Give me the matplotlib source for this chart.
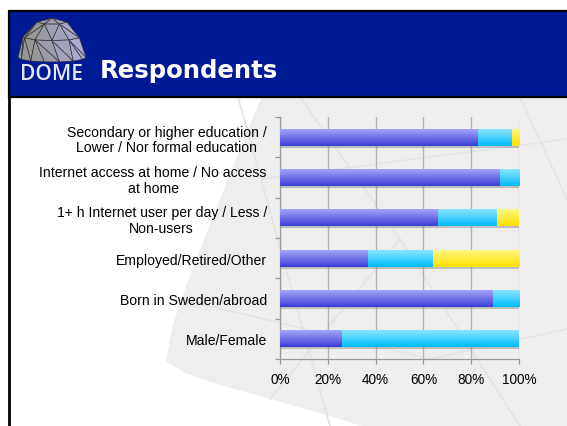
import numpy as np
import matplotlib
matplotlib.use("Agg")
import matplotlib.pyplot as plt
from matplotlib.patches import Rectangle, Polygon
import matplotlib.patheffects as pe

# survey breakdowns, shares of respondents
categories = [
    "Secondary or higher education /\nLower / Nor formal education",
    "Internet access at home / No access\nat home",
    "1+ h Internet user per day / Less /\nNon-users",
    "Employed/Retired/Other",
    "Born in Sweden/abroad",
    "Male/Female",
]
first_group = [0.83, 0.92, 0.66, 0.37, 0.89, 0.26]
second_group = [0.14, 0.08, 0.25, 0.27, 0.11, 0.74]
third_group = [0.03, 0.00, 0.09, 0.36, 0.00, 0.00]
tick_values = [0, 0.2, 0.4, 0.6, 0.8, 1.0]
tick_labels = ["0%", "20%", "40%", "60%", "80%", "100%"]

W, H = 567, 427

# gradient colours: (top, bottom)
grad_colors = [("#a4a5fa", "#3b3ed6"), ("#8ce5ff", "#00bdfd"), ("#fff683", "#ffe000")]


def fx(x):
    return x / W


def fy(y):
    return 1 - y / H


def hex_rgb(c):
    return np.array(matplotlib.colors.to_rgb(c))


fig = plt.figure(figsize=(W / 100, H / 100), dpi=100)
fig.patch.set_facecolor("white")

# faint dome watermark behind the chart
bg = fig.add_axes([0, 0, 1, 1])
bg.set_xlim(0, W)
bg.set_ylim(H, 0)
bg.axis("off")
outline = [(262, 98), (248, 130), (228, 180), (206, 235), (187, 285), (173, 325),
           (166, 362), (185, 374), (217, 385), (270, 400), (320, 414), (362, 427),
           (567, 427), (567, 98)]
bg.add_patch(Polygon(outline, closed=True, facecolor="#eeeeee", edgecolor="none"))
for (x0, y0, x1, y1) in [(238, 98, 330, 427), (262, 180, 567, 140), (300, 98, 400, 240),
                         (400, 240, 520, 427), (180, 300, 430, 360), (430, 360, 567, 330),
                         (520, 98, 567, 200), (270, 400, 400, 240)]:
    bg.plot([x0, x1], [y0, y1], color="#e3e3e3", lw=1.2, zorder=1)
bg.plot([8.5, 8.5], [12, H], color="black", lw=2, zorder=3)

# header band
bg.add_patch(Rectangle((8.5, 12), W, 86, facecolor="#001a96", edgecolor="black", lw=1.6, zorder=4))
bg.text(100, 78, "Respondents", color="white", fontsize=17.6, fontweight="bold",
        family="DejaVu Sans", va="baseline", ha="left", zorder=5)
bg.text(20, 80, "DOME", color="#e6e6ee", fontsize=15, fontweight="semibold",
        family="Open Sans", va="baseline", ha="left", zorder=5)

# little dome logo
logo = fig.add_axes([fx(17), fy(63), fx(70), 45 / H])
logo.set_xlim(-1.03, 1.03)
logo.set_ylim(-0.12, 1.03)
logo.axis("off")
elev = np.radians([0, 32, 64])
counts = [8, 6, 4]
tilt = 0.12
pts = []
for k, (e, n) in enumerate(zip(elev, counts)):
    th = np.linspace(np.pi, 0, n) + (0.5 * np.pi / (n - 1) if k % 2 else 0)
    th = np.clip(th, 0, np.pi)
    r = np.cos(e)
    pts.append(np.c_[r * np.cos(th), np.sin(e) - tilt * r * np.sin(th)])
apex = np.array([0.0, 1.0])
tris = []
for a in range(len(pts) - 1):
    A, B = pts[a], pts[a + 1]
    i = j = 0
    while i < len(A) - 1 or j < len(B) - 1:
        if j >= len(B) - 1 or (i < len(A) - 1 and (i + 1) / (len(A) - 1) <= (j + 1) / (len(B) - 1)):
            tris.append([A[i], A[i + 1], B[j]])
            i += 1
        else:
            tris.append([A[i], B[j], B[j + 1]])
            j += 1
C = pts[-1]
for i in range(len(C) - 1):
    tris.append([C[i], C[i + 1], apex])
for t in tris:
    t = np.array(t)
    cx = t[:, 0].mean()
    mix = np.clip((cx + 0.5) / 1.3, 0, 1)
    col = (1 - mix) * hex_rgb("#969696") + mix * hex_rgb("#aaaad4")
    logo.add_patch(Polygon(t, closed=True, facecolor=col, edgecolor="#333333", lw=0.45))

# chart
ax = fig.add_axes([fx(280), fy(360), fx(519) - fx(280), (360 - 118) / H])
ax.patch.set_alpha(0)
y = np.arange(len(categories))

lefts = np.zeros(len(categories))
shadow = [pe.SimplePatchShadow(offset=(0, -1.5), shadow_rgbFace="#909090", alpha=0.5), pe.Normal()]
for vals, (ctop, cbot) in zip([first_group, second_group, third_group], grad_colors):
    bars = ax.barh(y, vals, left=lefts, height=0.42, color=cbot, edgecolor="none", zorder=3)
    for rect in bars:
        if rect.get_width() <= 0:
            continue
        rect.set_path_effects(shadow)
        x0, y0 = rect.get_x(), rect.get_y()
        w, h = rect.get_width(), rect.get_height()
        t = np.linspace(0, 1, 64)[:, None]
        img = (1 - t) * hex_rgb(ctop) + t * hex_rgb(cbot)
        img = np.repeat(img[:, None, :], 2, axis=1)
        # y axis is inverted, so y0 is the visual top of the bar
        ax.imshow(img, extent=(x0, x0 + w, y0 + h, y0), aspect="auto",
                  interpolation="bilinear", zorder=4)
    lefts = lefts + np.array(vals)

ax.set_xlim(0, 1)
ax.set_ylim(len(categories) - 0.5, -0.5)
ax.set_xticks(tick_values)
ax.set_xticklabels(tick_labels)
ax.set_yticks(y)
ax.set_yticklabels(categories, family="Liberation Sans", fontsize=10.1)
plt.setp(ax.get_yticklabels(), multialignment="center", linespacing=1.15)
ax.set_yticks(np.arange(len(categories) + 1) - 0.5, minor=True)
ax.tick_params(axis="y", which="major", length=0, pad=9.5)
ax.tick_params(axis="y", which="minor", length=3.5, color="#9a9a9a", width=0.9)
ax.tick_params(axis="x", length=3.5, color="#9a9a9a", width=0.9, pad=6, labelsize=9.8)
for lab in ax.get_xticklabels():
    lab.set_family("Liberation Sans")
ax.grid(axis="x", color="#b2b2b2", lw=1.0, zorder=0)
ax.set_axisbelow(True)
for s in ["top", "right"]:
    ax.spines[s].set_visible(False)
for s in ["left", "bottom"]:
    ax.spines[s].set_color("#9a9a9a")
    ax.spines[s].set_linewidth(0.9)

fig.savefig("out.png", dpi=100)
